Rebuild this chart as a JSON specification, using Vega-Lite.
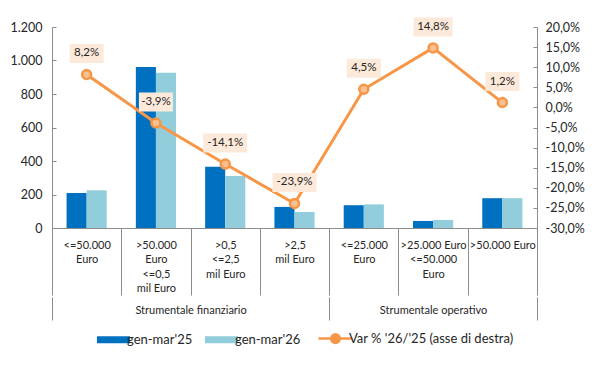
{
  "$schema": "https://vega.github.io/schema/vega-lite/v6.json",
  "width": 485,
  "height": 201,
  "autosize": {"type": "none"},
  "padding": {"left": 52, "top": 27, "right": 73, "bottom": 150},
  "config": {
    "locale": {"number": {"decimal": ",", "thousands": ".", "grouping": [3], "currency": ["", " €"], "minus": "-"}},
    "font": "Lato",
    "view": {"stroke": null},
    "axis": {"labelFont": "Lato", "labelColor": "#262626", "domainColor": "#8C8C8C", "tickColor": "#8C8C8C", "grid": false, "title": null}
  },
  "datasets": {
    "bars": [
      {"cat": "<=50.000|Euro", "series": "gen-mar'25", "value": 209},
      {"cat": "<=50.000|Euro", "series": "gen-mar'26", "value": 225},
      {"cat": ">50.000|Euro|<=0,5|mil Euro", "series": "gen-mar'25", "value": 961},
      {"cat": ">50.000|Euro|<=0,5|mil Euro", "series": "gen-mar'26", "value": 927},
      {"cat": ">0,5|<=2,5|mil Euro", "series": "gen-mar'25", "value": 365},
      {"cat": ">0,5|<=2,5|mil Euro", "series": "gen-mar'26", "value": 311},
      {"cat": ">2,5|mil Euro", "series": "gen-mar'25", "value": 126},
      {"cat": ">2,5|mil Euro", "series": "gen-mar'26", "value": 96},
      {"cat": "<=25.000|Euro", "series": "gen-mar'25", "value": 136},
      {"cat": "<=25.000|Euro", "series": "gen-mar'26", "value": 141},
      {"cat": ">25.000 Euro|<=50.000|Euro", "series": "gen-mar'25", "value": 42},
      {"cat": ">25.000 Euro|<=50.000|Euro", "series": "gen-mar'26", "value": 48},
      {"cat": ">50.000 Euro", "series": "gen-mar'25", "value": 178},
      {"cat": ">50.000 Euro", "series": "gen-mar'26", "value": 178}
    ],
    "var": [
      {"cat": "<=50.000|Euro", "group": "Strumentale finanziario", "var": 0.082},
      {"cat": ">50.000|Euro|<=0,5|mil Euro", "group": "Strumentale finanziario", "var": -0.039},
      {"cat": ">0,5|<=2,5|mil Euro", "group": "Strumentale finanziario", "var": -0.141},
      {"cat": ">2,5|mil Euro", "group": "Strumentale finanziario", "var": -0.239},
      {"cat": "<=25.000|Euro", "group": "Strumentale operativo", "var": 0.045},
      {"cat": ">25.000 Euro|<=50.000|Euro", "group": "Strumentale operativo", "var": 0.148},
      {"cat": ">50.000 Euro", "group": "Strumentale operativo", "var": 0.012}
    ]
  },
  "layer": [
    {
      "data": {"name": "bars"},
      "mark": {"type": "bar"},
      "encoding": {
        "x": {
          "field": "cat", "type": "nominal", "sort": null,
          "scale": {"paddingInner": 0, "paddingOuter": 0},
          "axis": {
            "orient": "bottom", "labelAngle": 0, "tickBand": "extent", "tickSize": 67,
            "labelExpr": "split(datum.label, '|')", "labelBaseline": "top", "labelPadding": -56,
            "labelLineHeight": 14.5, "labelFontSize": 11, "labelLimit": 200, "labelOverlap": false
          }
        },
        "xOffset": {"field": "series", "type": "nominal", "scale": {"paddingInner": 0, "paddingOuter": 0.725}},
        "y": {
          "field": "value", "type": "quantitative",
          "scale": {"domain": [0, 1200], "nice": false},
          "axis": {"orient": "left", "values": [0, 200, 400, 600, 800, 1000, 1200], "format": ",.0f", "tickSize": -4, "labelPadding": 14, "labelFontSize": 12.5}
        },
        "color": {
          "field": "series", "type": "nominal",
          "scale": {"domain": ["gen-mar'25", "gen-mar'26", "Var % '26/'25 (asse di destra)"], "range": ["#0070C0", "#92CDDC", "#F79646"]},
          "legend": {
            "orient": "none", "legendX": 55, "legendY": 305, "direction": "horizontal", "title": null,
            "symbolSize": 1089, "labelFontSize": 13, "labelFont": "Lato", "labelColor": "#262626",
            "labelOffset": 7, "columnPadding": 12, "labelLimit": 300,
            "encode": {"symbols": {"update": {
              "shape": {"signal": "datum.index === 2 ? 'M-1.03,0H-0.26M0.26,0H1.03M0.26,0A0.26,0.26,0,1,1,-0.26,0A0.26,0.26,0,1,1,0.26,0' : 'M-1,-0.21H1V0.21H-1Z'"},
              "size": {"value": 1089},
              "fill": {"signal": "datum.index === 2 ? '#FAC090' : scale('color', datum.value)"},
              "stroke": {"signal": "datum.index === 2 ? '#F79646' : 'transparent'"},
              "strokeWidth": {"signal": "datum.index === 2 ? 2.5 : 0"},
              "opacity": {"value": 1}
            }}}
          }
        }
      }
    },
    {
      "data": {"name": "var"},
      "encoding": {
        "x": {"field": "cat", "type": "nominal", "sort": null, "scale": {"paddingInner": 0, "paddingOuter": 0}, "axis": null},
        "y": {
          "field": "var", "type": "quantitative",
          "scale": {"domain": [-0.3, 0.2], "nice": false, "zero": false},
          "axis": {"orient": "right", "values": [-0.3, -0.25, -0.2, -0.15, -0.1, -0.05, 0, 0.05, 0.1, 0.15, 0.2], "format": ".1%", "tickSize": -4, "labelPadding": 12, "labelFontSize": 12.5}
        }
      },
      "layer": [
        {"mark": {"type": "line", "strokeWidth": 3}, "encoding": {"color": {"datum": "Var % '26/'25 (asse di destra)"}}},
        {"mark": {"type": "point", "filled": true, "fill": "#FAC090", "stroke": "#F79646", "strokeWidth": 2.5, "size": 80, "opacity": 1}},
        {
          "mark": {"type": "point", "filled": true, "color": "#FDE9D9", "opacity": 1, "strokeWidth": 0, "size": 400},
          "encoding": {"shape": {"condition": [
            {"test": "datum['var'] <= -0.1", "value": "M-2.2,-3.05H2.2V-1.15H-2.2Z"},
            {"test": "datum['var'] >= 0.1", "value": "M-1.95,-3.05H1.95V-1.15H-1.95Z"}
          ], "value": "M-1.7,-3.05H1.7V-1.15H-1.7Z"}}
        },
        {
          "mark": {"type": "text", "dy": -21, "baseline": "middle", "align": "center", "fontSize": 11.5, "font": "Lato", "color": "#262626"},
          "encoding": {"text": {"field": "var", "type": "quantitative", "format": ".1%"}}
        }
      ]
    },
    {
      "data": {"name": "var"},
      "transform": [{"window": [{"op": "row_number", "as": "idx"}]}],
      "mark": {"type": "point", "opacity": 0},
      "encoding": {
        "x": {
          "field": "idx", "type": "quantitative",
          "scale": {"domain": [0, 7], "nice": false, "zero": false, "padding": 0},
          "axis": {
            "orient": "bottom", "offset": 69, "values": [0, 2, 4, 5.5, 7], "domain": false, "domainColor": "transparent", "domainOpacity": 0, "domainWidth": 0, "tickSize": 23,
            "labelExpr": "datum.value == 2 ? 'Strumentale finanziario' : (datum.value == 5.5 ? 'Strumentale operativo' : '')",
            "tickOpacity": {"condition": {"test": "datum.value == 2 || datum.value == 5.5", "value": 0}, "value": 1},
            "labelPadding": -16, "labelBaseline": "top", "labelFontSize": 11, "labelFlush": false, "labelOverlap": false, "labelBound": false
          }
        }
      }
    }
  ],
  "resolve": {"scale": {"x": "independent", "y": "independent"}}
}
